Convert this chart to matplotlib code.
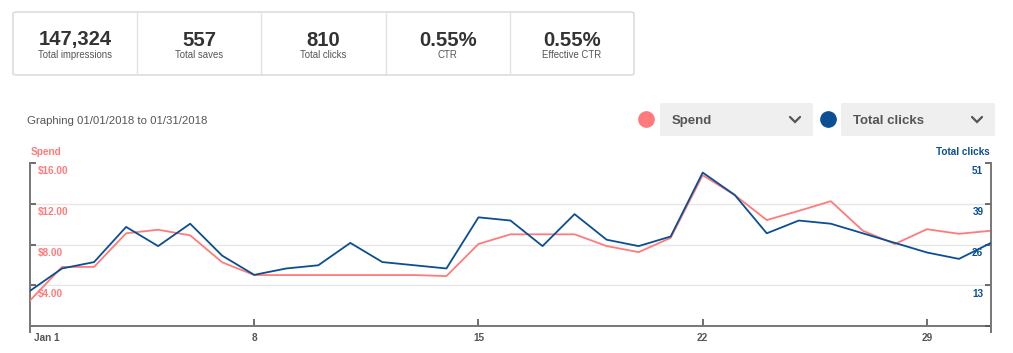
import matplotlib
matplotlib.use("Agg")
import matplotlib.pyplot as plt
from matplotlib.patches import FancyBboxPatch
from matplotlib.lines import Line2D
import matplotlib.transforms as mtransforms

plt.rcParams['font.family'] = ['Liberation Sans', 'DejaVu Sans']

# ---------------- data ----------------
stat_values = ["147,324", "557", "810", "0.55%", "0.55%"]
stat_labels = ["Total impressions", "Total saves", "Total clicks", "CTR", "Effective CTR"]

days = list(range(1, 32))
spend = [2.5, 5.8, 5.8, 9.1, 9.45, 8.9, 6.25, 5.0, 5.0, 5.0, 5.0, 5.0, 5.0, 4.9,
         8.05, 9.0, 9.0, 9.0, 7.85, 7.25, 8.65, 14.8, 12.85, 10.4, 11.3, 12.25,
         9.35, 8.05, 9.5, 9.05, 9.35]
clicks = [11, 18, 20, 31, 25, 32, 22, 16, 18, 19, 26, 20, 19, 18, 34, 33, 25, 35,
          27, 25, 28, 48, 41, 29, 33, 32, 29, 26, 23, 21, 26]

spend_ticks = [4, 8, 12, 16]
spend_tick_labels = ["$4.00", "$8.00", "$12.00", "$16.00"]
clicks_ticks = [12.75, 25.5, 38.25, 51]
clicks_tick_labels = ["13", "26", "39", "51"]
x_ticks = [1, 8, 15, 22, 29]
x_tick_labels = ["Jan 1", "8", "15", "22", "29"]

title_text = "Graphing 01/01/2018 to 01/31/2018"
left_axis_name = "Spend"
right_axis_name = "Total clicks"

PINK = "#ff7b7b"
BLUE = "#0b4e94"
AXIS = "#777777"
GRID = "#e6e6e6"
TXT = "#555555"

W, H = 1013, 353
fig = plt.figure(figsize=(W / 100, H / 100), dpi=100)

def fx(x):
    return x / W

def fy(y):
    return 1 - y / H

# ---------------- stat boxes ----------------
bx0, bx1, by0, by1 = 13, 634, 12, 75
box = FancyBboxPatch((fx(bx0), fy(by1)), fx(bx1) - fx(bx0), fy(by0) - fy(by1),
                     boxstyle="round,pad=0,rounding_size=0.004",
                     transform=fig.transFigure, facecolor="white",
                     edgecolor="#d6d6d6", linewidth=1.0)
fig.add_artist(box)
cw = (bx1 - bx0) / len(stat_values)
for i, (v, l) in enumerate(zip(stat_values, stat_labels)):
    cx = bx0 + cw * (i + 0.5)
    fig.text(fx(cx), fy(45.5), v, ha="center", va="baseline", fontsize=14.6,
             fontweight="bold", color="#333333")
    fig.text(fx(cx), fy(58), l, ha="center", va="baseline", fontsize=6.9,
             color=TXT)
    if i > 0:
        xd = bx0 + cw * i
        fig.add_artist(Line2D([fx(xd), fx(xd)], [fy(by0 + 1), fy(by1 - 1)],
                              transform=fig.transFigure, color="#e2e2e2", lw=1))

# ---------------- header ----------------
fig.text(fx(27), fy(124.3), title_text, ha="left", va="baseline", fontsize=8.2, color=TXT)

def selector(xdot, x0, x1, label, color):
    fig.add_artist(Line2D([fx(xdot)], [fy(119.5)], marker="o", markersize=11,
                          markerfacecolor=color, markeredgecolor=color,
                          transform=fig.transFigure))
    p = FancyBboxPatch((fx(x0), fy(136)), fx(x1) - fx(x0), fy(103) - fy(136),
                       boxstyle="round,pad=0,rounding_size=0.003",
                       transform=fig.transFigure, facecolor="#efefef",
                       edgecolor="none")
    fig.add_artist(p)
    fig.text(fx(x0 + 12), fy(124.3), label, ha="left", va="baseline", fontsize=9.5,
             fontweight="bold", color=TXT)
    cx = x1 - 18
    fig.add_artist(Line2D([fx(cx - 5), fx(cx), fx(cx + 5)], [fy(117), fy(122), fy(117)],
                          transform=fig.transFigure, color=TXT, lw=1.6,
                          solid_capstyle="round", solid_joinstyle="miter"))

selector(645.5, 660, 813, "Spend", PINK)
selector(827.5, 841, 995, "Total clicks", BLUE)

# ---------------- chart ----------------
ax_l, ax_r, ax_t, ax_b = 30, 991, 163, 326
ax = fig.add_axes([fx(ax_l), fy(ax_b), fx(ax_r) - fx(ax_l), fy(ax_t) - fy(ax_b)])
ax2 = ax.twinx()

ax.set_xlim(1, 31)
ax.set_ylim(0, 16)
ax2.set_ylim(0, 51)

for t in spend_ticks[:-1]:
    ax.axhline(t, color=GRID, lw=1, zorder=0)

ax.plot(days, spend, color=PINK, lw=1.3, zorder=3)
ax2.plot(days, clicks, color=BLUE, lw=1.3, zorder=3)

for a in (ax, ax2):
    for s in a.spines.values():
        s.set_visible(False)
ax.spines["left"].set_visible(True)
ax.spines["bottom"].set_visible(True)
ax2.spines["right"].set_visible(True)
for s in (ax.spines["left"], ax.spines["bottom"], ax2.spines["right"]):
    s.set_color(AXIS)
    s.set_linewidth(1.4)

ax.set_yticks([0] + spend_ticks)
ax.set_yticklabels([])
ax.tick_params(axis="y", direction="in", length=4.5, width=1.2, color="#555555")
ax2.set_yticks([0] + clicks_ticks)
ax2.set_yticklabels([])
ax2.tick_params(axis="y", direction="in", length=4.5, width=1.2, color="#555555")

ax.set_xticks(x_ticks[1:])
ax.set_xticklabels([])
ax.set_xticks([1, 31], minor=True)
ax.tick_params(axis="x", which="major", direction="in", length=5, width=1.2, color="#555555")
ax.tick_params(axis="x", which="minor", direction="out", length=5, width=1.4, color=AXIS)

# tick labels drawn inside, below each tick
off = mtransforms.ScaledTranslation(8 / 100, -11.3 / 100, fig.dpi_scale_trans)
tl = mtransforms.blended_transform_factory(ax.transAxes, ax.transData) + off
for t, lab in zip(spend_ticks, spend_tick_labels):
    ax.text(0, t, lab, transform=tl, ha="left", va="baseline", fontsize=7.2,
            fontweight="bold", color=PINK)
off2 = mtransforms.ScaledTranslation(-7.7 / 100, -11.3 / 100, fig.dpi_scale_trans)
tr = mtransforms.blended_transform_factory(ax2.transAxes, ax2.transData) + off2
for t, lab in zip(clicks_ticks, clicks_tick_labels):
    ax2.text(1, t, lab, transform=tr, ha="right", va="baseline", fontsize=7.2,
             fontweight="bold", color=BLUE)

offx = mtransforms.ScaledTranslation(0, -15 / 100, fig.dpi_scale_trans)
tx = mtransforms.blended_transform_factory(ax.transData, ax.transAxes) + offx
offx1 = mtransforms.ScaledTranslation(4 / 100, -15 / 100, fig.dpi_scale_trans)
tx1 = mtransforms.blended_transform_factory(ax.transData, ax.transAxes) + offx1
for t, lab in zip(x_ticks, x_tick_labels):
    if t == 1:
        ax.text(t, 0, lab, transform=tx1, ha="left", va="baseline", fontsize=7.2,
                fontweight="bold", color=TXT)
    else:
        ax.text(t, 0, lab, transform=tx, ha="center", va="baseline", fontsize=7.2,
                fontweight="bold", color=TXT)

fig.text(fx(30.5), fy(155.3), left_axis_name, ha="left", va="baseline", fontsize=7.2,
         fontweight="bold", color=PINK)
fig.text(fx(990), fy(155.3), right_axis_name, ha="right", va="baseline", fontsize=7.2,
         fontweight="bold", color=BLUE)

fig.savefig("out.png", dpi=100, facecolor="white")
